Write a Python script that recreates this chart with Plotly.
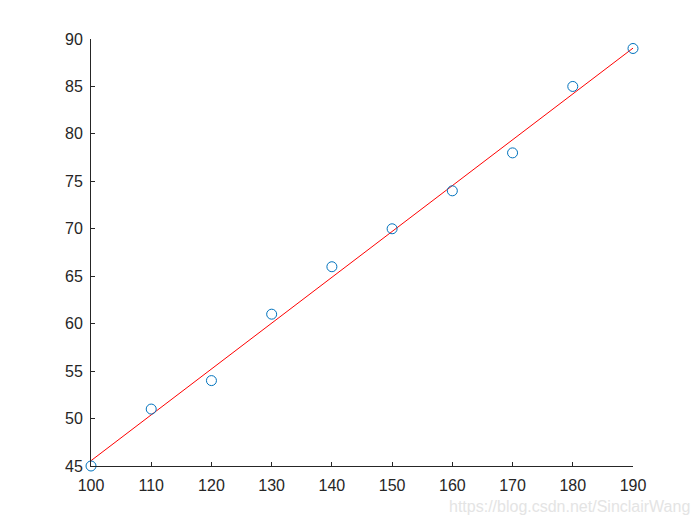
import plotly.graph_objects as go

x_data = [100, 110, 120, 130, 140, 150, 160, 170, 180, 190]
y_data = [45, 51, 54, 61, 66, 70, 74, 78, 85, 89]
fit_x = [100, 190]
fit_y = [45.56, 89.04]
x_ticks = [100, 110, 120, 130, 140, 150, 160, 170, 180, 190]
y_ticks = [45, 50, 55, 60, 65, 70, 75, 80, 85, 90]

fig = go.Figure()
fig.add_trace(go.Scatter(x=fit_x, y=fit_y, mode="lines",
                         line=dict(color="#FF0000", width=1), showlegend=False))
fig.add_trace(go.Scatter(x=x_data, y=y_data, mode="markers",
                         marker=dict(symbol="circle-open", size=10, color="#0072BD",
                                     line=dict(width=1, color="#0072BD")),
                         showlegend=False, cliponaxis=False))

axis_common = dict(showgrid=False, zeroline=False, showline=True, linecolor="#262626",
                   linewidth=1, ticks="inside", ticklen=4, tickcolor="#262626",
                   tickfont=dict(family="Liberation Sans, Arial", size=16, color="#262626"))
fig.update_xaxes(range=[100, 190], tickvals=x_ticks, ticklabelstandoff=5, **axis_common)
fig.update_yaxes(range=[45, 90], tickvals=y_ticks, ticklabelstandoff=4, **axis_common)

fig.add_annotation(text="https://blog.csdn.net/SinclairWang", xref="paper", yref="paper",
                   x=1.109, y=-0.094, xanchor="right", yanchor="middle", showarrow=False,
                   font=dict(family="Liberation Sans, Arial", size=16, color="#E4E4E4"))

fig.update_layout(width=700, height=525, plot_bgcolor="white", paper_bgcolor="white",
                  margin=dict(l=83, r=75, t=31, b=67))
fig.write_html("out.html")
